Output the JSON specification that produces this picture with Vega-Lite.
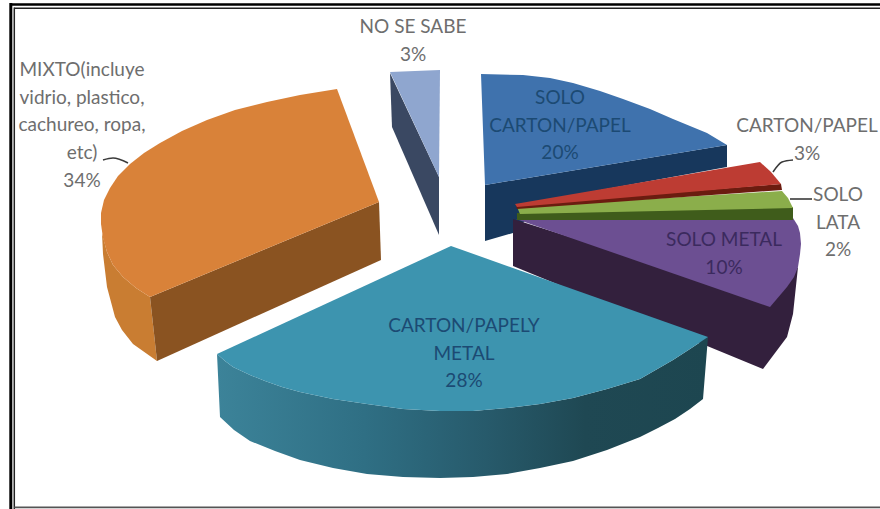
{
  "$schema": "https://vega.github.io/schema/vega-lite/v6.json",
  "width": 880,
  "height": 509,
  "padding": 0,
  "autosize": "none",
  "background": "white",
  "view": {"stroke": null},
  "resolve": {"scale": {"color": "independent"}},
  "datasets": {
    "faces": [
      {"piece":"noSabeSide","step":1,"x":390,"y":73},{"piece":"noSabeSide","step":2,"x":439,"y":177},{"piece":"noSabeSide","step":3,"x":439,"y":235},{"piece":"noSabeSide","step":4,"x":392,"y":127},
      {"piece":"noSabeTop","step":1,"x":390,"y":72},{"piece":"noSabeTop","step":2,"x":440,"y":70},{"piece":"noSabeTop","step":3,"x":439,"y":177},

      {"piece":"mixtoRim","step":1,"x":102,"y":233},{"piece":"mixtoRim","step":2,"x":107,"y":252},{"piece":"mixtoRim","step":3,"x":113,"y":265},{"piece":"mixtoRim","step":4,"x":123,"y":277},{"piece":"mixtoRim","step":5,"x":136,"y":288},{"piece":"mixtoRim","step":6,"x":150,"y":297},{"piece":"mixtoRim","step":7,"x":157,"y":361},{"piece":"mixtoRim","step":8,"x":133,"y":344},{"piece":"mixtoRim","step":9,"x":122,"y":330},{"piece":"mixtoRim","step":10,"x":115,"y":317},{"piece":"mixtoRim","step":11,"x":107,"y":287},{"piece":"mixtoRim","step":12,"x":103,"y":254},

      {"piece":"mixtoSide","step":1,"x":150,"y":297},{"piece":"mixtoSide","step":2,"x":379,"y":202},{"piece":"mixtoSide","step":3,"x":381,"y":260},{"piece":"mixtoSide","step":4,"x":157,"y":361},

      {"piece":"mixtoTop","step":1,"x":337,"y":89},{"piece":"mixtoTop","step":2,"x":300,"y":95},{"piece":"mixtoTop","step":3,"x":267,"y":102},{"piece":"mixtoTop","step":4,"x":235,"y":110},{"piece":"mixtoTop","step":5,"x":207,"y":120},{"piece":"mixtoTop","step":6,"x":182,"y":131},{"piece":"mixtoTop","step":7,"x":160,"y":143},{"piece":"mixtoTop","step":8,"x":144,"y":153},{"piece":"mixtoTop","step":9,"x":130,"y":164},{"piece":"mixtoTop","step":10,"x":118,"y":176},{"piece":"mixtoTop","step":11,"x":110,"y":188},{"piece":"mixtoTop","step":12,"x":104,"y":200},{"piece":"mixtoTop","step":13,"x":101,"y":213},{"piece":"mixtoTop","step":14,"x":101,"y":224},{"piece":"mixtoTop","step":15,"x":103,"y":238},{"piece":"mixtoTop","step":16,"x":107,"y":252},{"piece":"mixtoTop","step":17,"x":113,"y":265},{"piece":"mixtoTop","step":18,"x":123,"y":277},{"piece":"mixtoTop","step":19,"x":136,"y":288},{"piece":"mixtoTop","step":20,"x":150,"y":297},{"piece":"mixtoTop","step":21,"x":379,"y":202},

      {"piece":"cartonSide","step":1,"x":485,"y":185},{"piece":"cartonSide","step":2,"x":727,"y":145},{"piece":"cartonSide","step":3,"x":727,"y":167},{"piece":"cartonSide","step":4,"x":524,"y":204},{"piece":"cartonSide","step":5,"x":524,"y":222},{"piece":"cartonSide","step":6,"x":513,"y":233},{"piece":"cartonSide","step":7,"x":485,"y":241},

      {"piece":"cartonTop","step":1,"x":481,"y":74},{"piece":"cartonTop","step":2,"x":523,"y":75},{"piece":"cartonTop","step":3,"x":550,"y":78},{"piece":"cartonTop","step":4,"x":573,"y":83},{"piece":"cartonTop","step":5,"x":600,"y":91},{"piece":"cartonTop","step":6,"x":623,"y":99},{"piece":"cartonTop","step":7,"x":650,"y":109},{"piece":"cartonTop","step":8,"x":673,"y":119},{"piece":"cartonTop","step":9,"x":707,"y":133},{"piece":"cartonTop","step":10,"x":727,"y":145},{"piece":"cartonTop","step":11,"x":485,"y":185},

      {"piece":"metalSide","step":1,"x":513,"y":219},{"piece":"metalSide","step":2,"x":770,"y":300},{"piece":"metalSide","step":3,"x":798,"y":267},{"piece":"metalSide","step":4,"x":793,"y":314},{"piece":"metalSide","step":5,"x":787,"y":337},{"piece":"metalSide","step":6,"x":763,"y":369},{"piece":"metalSide","step":7,"x":513,"y":266},

      {"piece":"metalTop","step":1,"x":516,"y":219},{"piece":"metalTop","step":2,"x":793,"y":218},{"piece":"metalTop","step":3,"x":798,"y":226},{"piece":"metalTop","step":4,"x":800,"y":233},{"piece":"metalTop","step":5,"x":801,"y":244},{"piece":"metalTop","step":6,"x":800,"y":254},{"piece":"metalTop","step":7,"x":798,"y":267},{"piece":"metalTop","step":8,"x":794,"y":277},{"piece":"metalTop","step":9,"x":787,"y":287},{"piece":"metalTop","step":10,"x":770,"y":307},

      {"piece":"lataSide","step":1,"x":517,"y":213},{"piece":"lataSide","step":2,"x":793,"y":207},{"piece":"lataSide","step":3,"x":793,"y":220},{"piece":"lataSide","step":4,"x":517,"y":220},
      {"piece":"lataTop","step":1,"x":517,"y":207},{"piece":"lataTop","step":2,"x":782,"y":191},{"piece":"lataTop","step":3,"x":788,"y":198},{"piece":"lataTop","step":4,"x":793,"y":208},{"piece":"lataTop","step":5,"x":520,"y":214},

      {"piece":"papelSide","step":1,"x":516,"y":205},{"piece":"papelSide","step":2,"x":781,"y":184},{"piece":"papelSide","step":3,"x":782,"y":190},{"piece":"papelSide","step":4,"x":517,"y":209},
      {"piece":"papelTop","step":1,"x":515,"y":204},{"piece":"papelTop","step":2,"x":760,"y":162},{"piece":"papelTop","step":3,"x":771,"y":172},{"piece":"papelTop","step":4,"x":781,"y":184},{"piece":"papelTop","step":5,"x":517,"y":207}
    ],
    "tealRim": [
      {"step":1,"x":217,"y":354},{"step":2,"x":225,"y":361},{"step":3,"x":233,"y":367},{"step":4,"x":250,"y":375},{"step":5,"x":265,"y":381},{"step":6,"x":282,"y":387},{"step":7,"x":300,"y":392},{"step":8,"x":333,"y":399},{"step":9,"x":367,"y":404},{"step":10,"x":403,"y":409},{"step":11,"x":440,"y":411},{"step":12,"x":473,"y":411},{"step":13,"x":507,"y":408},{"step":14,"x":540,"y":404},{"step":15,"x":573,"y":398},{"step":16,"x":607,"y":389},{"step":17,"x":640,"y":379},{"step":18,"x":673,"y":360},{"step":19,"x":690,"y":349},{"step":20,"x":708,"y":337},
      {"step":21,"x":703,"y":399},{"step":22,"x":690,"y":409},{"step":23,"x":675,"y":419},{"step":24,"x":658,"y":428},{"step":25,"x":640,"y":437},{"step":26,"x":607,"y":450},{"step":27,"x":573,"y":461},{"step":28,"x":540,"y":468},{"step":29,"x":507,"y":474},{"step":30,"x":473,"y":477},{"step":31,"x":440,"y":478},{"step":32,"x":403,"y":477},{"step":33,"x":367,"y":474},{"step":34,"x":333,"y":468},{"step":35,"x":300,"y":460},{"step":36,"x":275,"y":451},{"step":37,"x":250,"y":441},{"step":38,"x":234,"y":430},{"step":39,"x":220,"y":417}
    ],
    "tealTop": [
      {"step":1,"x":451,"y":246},{"step":2,"x":708,"y":337},{"step":3,"x":690,"y":349},{"step":4,"x":673,"y":360},{"step":5,"x":640,"y":379},{"step":6,"x":607,"y":389},{"step":7,"x":573,"y":398},{"step":8,"x":540,"y":404},{"step":9,"x":507,"y":408},{"step":10,"x":473,"y":411},{"step":11,"x":440,"y":411},{"step":12,"x":403,"y":409},{"step":13,"x":367,"y":404},{"step":14,"x":333,"y":399},{"step":15,"x":300,"y":392},{"step":16,"x":282,"y":387},{"step":17,"x":265,"y":381},{"step":18,"x":250,"y":375},{"step":19,"x":233,"y":367},{"step":20,"x":225,"y":361},{"step":21,"x":217,"y":354}
    ],
    "leaders": [
      {"line":"mixto","step":1,"x":103,"y":160},{"line":"mixto","step":2,"x":113,"y":158},{"line":"mixto","step":3,"x":128,"y":163},
      {"line":"papel","step":1,"x":793,"y":160},{"line":"papel","step":2,"x":782,"y":162},{"line":"papel","step":3,"x":773,"y":172},
      {"line":"lata","step":1,"x":812,"y":199},{"line":"lata","step":2,"x":790,"y":199}
    ],
    "labels": [
      {"label":"NO SE SABE\n3%","x":413,"y":27,"tone":"out"},
      {"label":"MIXTO(incluye\nvidrio, plastico,\ncachureo, ropa,\netc)\n34%","x":82,"y":70,"tone":"out"},
      {"label":"SOLO\nCARTON/PAPEL\n20%","x":560,"y":98,"tone":"in"},
      {"label":"CARTON/PAPEL\n3%","x":807,"y":126,"tone":"out"},
      {"label":"SOLO\nLATA\n2%","x":838,"y":195,"tone":"out"},
      {"label":"SOLO METAL\n10%","x":724,"y":240,"tone":"metal"},
      {"label":"CARTON/PAPELY\nMETAL\n28%","x":464,"y":326,"tone":"in"}
    ],
    "frame": [
      {"x":10.8,"x2":880,"y":4.5,"y2":4.5,"w":2.6,"c":"#000000"},
      {"x":10.8,"x2":10.8,"y":3,"y2":509,"w":3,"c":"#000000"},
      {"x":14.3,"x2":880,"y":8.2,"y2":8.2,"w":1.5,"c":"#222222"},
      {"x":14.3,"x2":14.3,"y":7.5,"y2":509,"w":1.5,"c":"#222222"},
      {"x":14.3,"x2":880,"y":507.4,"y2":507.4,"w":1.6,"c":"#555555"}
    ]
  },
  "encoding": {
    "x": {"field":"x","type":"quantitative","scale":{"domain":[0,880]},"axis":null},
    "y": {"field":"y","type":"quantitative","scale":{"domain":[509,0]},"axis":null}
  },
  "layer": [
    {
      "data": {"name":"frame"},
      "mark": {"type":"rule"},
      "encoding": {
        "x2": {"field":"x2"},
        "y2": {"field":"y2"},
        "strokeWidth": {"field":"w","type":"quantitative","scale":null},
        "color": {"field":"c","type":"nominal","scale":null}
      }
    },
    {
      "data": {"name":"faces"},
      "mark": {"type":"line","filled":true,"interpolate":"linear-closed","strokeWidth":0},
      "encoding": {
        "detail": {"field":"piece"},
        "order": {"field":"step","type":"quantitative"},
        "color": {
          "field":"piece","type":"nominal","legend":null,
          "scale":{
            "domain":["noSabeSide","noSabeTop","mixtoRim","mixtoSide","mixtoTop","cartonSide","cartonTop","metalSide","metalTop","lataSide","lataTop","papelSide","papelTop"],
            "range":["#3a4862","#8fa6cf","#c97d32","#8a5321","#d98239","#17375c","#3f72ad","#33203d","#6c4f92","#3f5c1b","#8bae4b","#6b1c10","#bd3c33"]
          }
        }
      }
    },
    {
      "data": {"name":"tealRim"},
      "mark": {
        "type":"line","filled":true,"interpolate":"linear-closed","strokeWidth":0,
        "fill":{"gradient":"linear","x1":0,"y1":0,"x2":1,"y2":0,"stops":[
          {"offset":0,"color":"#3c8399"},
          {"offset":0.3,"color":"#2f6f84"},
          {"offset":0.55,"color":"#275a6b"},
          {"offset":0.75,"color":"#1f4853"},
          {"offset":1,"color":"#1d4650"}
        ]}
      },
      "encoding": {"order":{"field":"step","type":"quantitative"}}
    },
    {
      "data": {"name":"tealTop"},
      "mark": {"type":"line","filled":true,"interpolate":"linear-closed","strokeWidth":0,"fill":"#3d94af"},
      "encoding": {"order":{"field":"step","type":"quantitative"}}
    },
    {
      "data": {"name":"leaders"},
      "mark": {"type":"line","interpolate":"monotone","strokeWidth":1.6,"color":"#3a3a3a"},
      "encoding": {
        "detail": {"field":"line"},
        "order": {"field":"step","type":"quantitative"}
      }
    },
    {
      "data": {"name":"labels"},
      "mark": {"type":"text","font":"Lato","fontSize":19,"lineHeight":27.7,"lineBreak":"\n","align":"center","baseline":"middle"},
      "encoding": {
        "text": {"field":"label"},
        "color": {
          "field":"tone","type":"nominal","legend":null,
          "scale":{"domain":["out","in","metal"],"range":["#6e6e6e","#1c4a73","#3b2a5e"]}
        }
      }
    }
  ]
}
